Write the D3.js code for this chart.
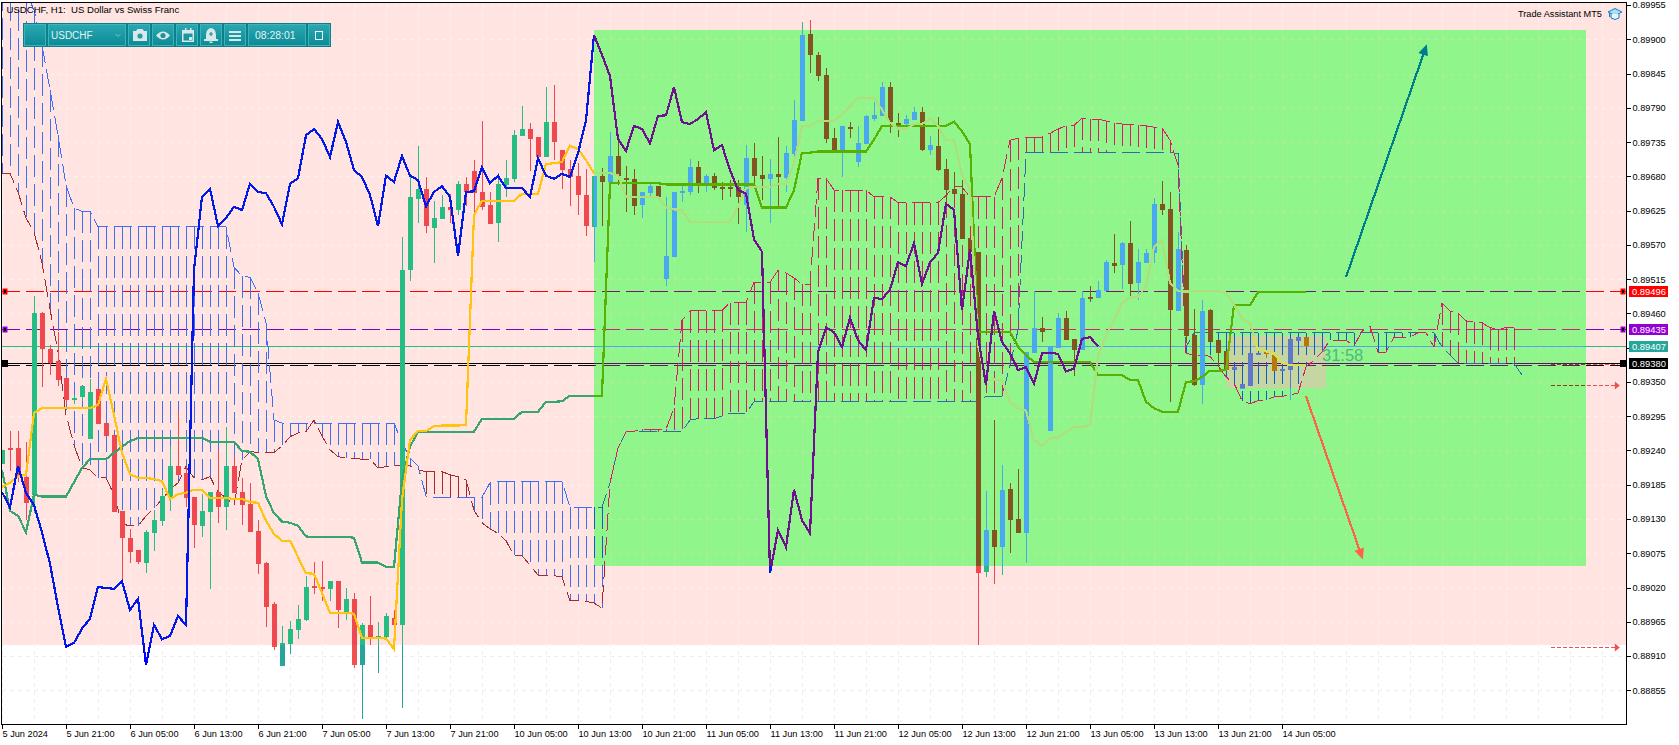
<!DOCTYPE html>
<html><head><meta charset="utf-8">
<script src="https://cdnjs.cloudflare.com/ajax/libs/d3/7.8.5/d3.min.js"></script>
<style>
html,body{margin:0;padding:0;background:#fff;overflow:hidden}
svg{display:block}
text{font-family:"Liberation Sans",Arial,sans-serif;white-space:pre}
</style></head><body>
<svg id="c" width="1679" height="745"></svg>
<script>
// ---- values, in 1/100000 of a franc ----
const opens=[89218,89244,89244,89198,89169,89461,89403,89384,89356,89321,89326,89258,89339,89284,89265,89143,89099,89080,89059,89107,89127,89165,89215,89204,89165,89119,89141,89173,89149,89215,89173,89154,89111,89059,88994,88894,88930,88952,88968,89022,89021,89018,89030,88981,89002,88896,88960,88937,88941,88971,88960,89530,89644,89660,89597,89611,89631,89626,89668,89689,89655,89634,89605,89666,89676,89745,89756,89743,89711,89767,89722,89692,89681,89650,89599,89681,89671,89713,89677,89676,89634,89653,89664,89515,89551,89655,89655,89695,89669,89681,89663,89663,89663,89634,89709,89682,89676,89684,89677,89716,89769,89908,89875,89843,89741,89719,89759,89703,89732,89772,89777,89823,89766,89764,89770,89783,89722,89729,89692,89660,89652,89581,89559,89045,89112,89085,89178,89130,89107,89396,89437,89271,89404,89453,89419,89401,89486,89485,89496,89541,89538,89573,89509,89541,89557,89636,89628,89464,89562,89425,89345,89465,89417,89400,89369,89339,89343,89395,89398,89393,89367,89369,89416,89422];
const highs=[89241,89271,89271,89254,89488,89462,89409,89430,89356,89329,89343,89355,89339,89284,89265,89143,89114,89080,89112,89144,89177,89247,89302,89214,89165,89170,89173,89241,89278,89229,89196,89188,89128,89061,88997,88958,88966,88992,89038,89061,89063,89030,89030,89019,89011,88963,89006,88965,88979,88984,89583,89684,89729,89679,89640,89650,89652,89673,89679,89706,89769,89655,89685,89706,89754,89793,89766,89743,89823,89827,89722,89706,89701,89692,89681,89693,89751,89738,89697,89692,89655,89671,89664,89647,89655,89664,89708,89705,89684,89685,89671,89674,89674,89730,89733,89713,89708,89743,89729,89803,89928,89931,89880,89854,89758,89761,89767,89761,89778,89799,89831,89831,89782,89778,89791,89791,89745,89775,89708,89687,89674,89581,89559,89175,89289,89217,89188,89210,89398,89496,89454,89406,89461,89464,89419,89496,89504,89512,89546,89587,89575,89608,89563,89563,89645,89673,89655,89591,89570,89467,89482,89467,89417,89400,89374,89347,89396,89397,89398,89393,89371,89419,89422,89422];
const lows=[89218,89207,89190,89128,89139,89342,89361,89343,89315,89315,89319,89258,89283,89263,89141,89032,89059,89058,89043,89079,89119,89143,89199,89149,89083,89101,89018,89124,89112,89172,89120,89109,89042,88957,88920,88894,88914,88938,88966,89010,88998,88998,88955,88968,88891,88809,88928,88883,88936,88952,88827,89512,89605,89589,89541,89611,89605,89618,89632,89621,89626,89603,89575,89647,89671,89745,89689,89711,89711,89706,89660,89632,89618,89584,89543,89600,89671,89666,89623,89618,89613,89648,89647,89504,89551,89639,89650,89653,89655,89658,89642,89647,89603,89591,89664,89642,89605,89631,89655,89711,89769,89846,89833,89733,89721,89679,89741,89695,89732,89769,89777,89750,89743,89754,89770,89721,89714,89689,89642,89652,89579,89534,88928,89037,89026,89040,89075,89107,89059,89396,89414,89271,89404,89417,89360,89401,89478,89485,89496,89525,89499,89488,89482,89541,89541,89618,89318,89464,89412,89343,89315,89414,89374,89369,89369,89339,89343,89395,89388,89367,89367,89321,89416,89406];
const closes=[89241,89241,89199,89156,89461,89403,89380,89353,89321,89324,89343,89334,89283,89263,89141,89099,89077,89061,89109,89128,89167,89215,89201,89164,89120,89143,89173,89149,89215,89172,89152,89109,89058,88989,88925,88931,88954,88970,89021,89019,89018,89030,88984,89002,88896,88960,88937,88942,88974,88960,89530,89647,89660,89600,89613,89631,89626,89668,89655,89653,89631,89603,89668,89677,89746,89756,89740,89711,89767,89735,89690,89679,89650,89600,89681,89671,89713,89681,89674,89632,89655,89664,89647,89552,89655,89656,89695,89669,89681,89661,89661,89661,89647,89709,89681,89676,89684,89679,89717,89770,89907,89875,89841,89740,89721,89761,89756,89733,89777,89778,89823,89767,89764,89772,89783,89722,89730,89690,89658,89652,89579,89559,89043,89112,89085,89177,89128,89107,89398,89437,89430,89406,89453,89417,89401,89485,89483,89498,89542,89536,89573,89507,89542,89557,89636,89626,89465,89563,89424,89345,89464,89414,89396,89369,89374,89347,89396,89397,89395,89367,89371,89419,89422,89407];
const chikou=[89173,89149,89215,89172,89152,89109,89058,88989,88925,88931,88954,88970,89021,89019,89018,89030,88984,89002,88896,88960,88937,88942,88974,88960,89530,89647,89660,89600,89613,89631,89626,89668,89655,89653,89631,89603,89668,89677,89746,89756,89740,89711,89767,89735,89690,89679,89650,89600,89681,89671,89713,89681,89674,89632,89655,89664,89647,89552,89655,89656,89695,89669,89681,89661,89661,89661,89647,89709,89681,89676,89684,89679,89717,89770,89907,89875,89841,89740,89721,89761,89756,89733,89777,89778,89823,89767,89764,89772,89783,89722,89730,89690,89658,89652,89579,89559,89043,89112,89085,89177,89128,89107,89398,89437,89430,89406,89453,89417,89401,89485,89483,89498,89542,89536,89573,89507,89542,89557,89636,89626,89465,89563,89424,89345,89464,89414,89396,89369,89374,89347,89396,89397,89395,89367,89371,89419,89422,89407];
const tenkan=[89182,89188,89198,89201,89300,89308,89308,89308,89308,89308,89308,89308,89313,89355,89297,89236,89202,89196,89196,89194,89191,89162,89170,89172,89177,89177,89164,89164,89164,89162,89162,89157,89156,89127,89106,89095,89095,89069,89043,89042,89011,88979,88979,88979,88978,88939,88939,88939,88938,88921,89161,89257,89271,89271,89279,89280,89280,89280,89281,89618,89641,89641,89641,89641,89641,89652,89652,89652,89700,89701,89703,89729,89724,89706,89685,89685,89685,89682,89647,89647,89647,89647,89647,89630,89627,89626,89607,89607,89607,89607,89607,89607,89631,89661,89663,89663,89663,89668,89668,89701,89761,89761,89769,89769,89769,89780,89792,89806,89806,89806,89787,89766,89757,89756,89764,89764,89773,89761,89738,89738,89682,89659,89409,89353,89354,89353,89318,89307,89304,89257,89247,89260,89261,89270,89278,89278,89281,89391,89425,89449,89477,89485,89487,89503,89567,89578,89509,89496,89495,89496,89496,89496,89496,89493,89474,89452,89444,89402,89399,89396,89380,89377,89377,89377];
const kijun=[89209,89143,89135,89109,89169,89166,89166,89166,89166,89189,89212,89226,89226,89226,89236,89246,89255,89260,89260,89260,89260,89260,89260,89260,89260,89260,89254,89254,89254,89254,89239,89238,89226,89167,89139,89126,89124,89119,89102,89101,89101,89101,89101,89101,89100,89060,89060,89060,89053,89053,89193,89246,89270,89270,89270,89270,89270,89270,89270,89270,89291,89291,89291,89291,89291,89302,89302,89302,89318,89318,89319,89328,89328,89328,89328,89328,89669,89669,89669,89669,89669,89669,89669,89667,89667,89667,89667,89667,89667,89667,89667,89667,89667,89667,89667,89630,89630,89630,89630,89658,89718,89718,89720,89720,89720,89720,89720,89720,89720,89739,89761,89761,89761,89761,89761,89761,89761,89761,89761,89768,89752,89732,89430,89430,89430,89430,89430,89407,89393,89382,89382,89382,89382,89382,89382,89382,89382,89361,89361,89361,89361,89353,89353,89318,89308,89302,89302,89302,89350,89351,89358,89368,89368,89369,89473,89473,89473,89494,89494,89494,89494,89494,89494,89494];
const spanA=[90027,90011,89995,89976,89947,89891,89819,89746,89666,89629,89624,89624,89599,89599,89599,89599,89599,89599,89599,89599,89599,89599,89599,89599,89599,89599,89599,89599,89599,89534,89520,89518,89493,89445,89289,89284,89284,89284,89284,89284,89284,89284,89284,89284,89284,89284,89284,89284,89284,89284,89252,89228,89215,89167,89165,89165,89165,89165,89165,89165,89165,89188,89190,89190,89190,89190,89190,89190,89190,89190,89190,89149,89149,89149,89149,89149,89188,89244,89270,89270,89270,89270,89270,89270,89270,89270,89289,89291,89291,89291,89295,89300,89300,89300,89318,89318,89318,89318,89318,89318,89318,89318,89318,89318,89318,89318,89318,89318,89318,89318,89318,89318,89318,89318,89318,89318,89318,89318,89318,89318,89318,89318,89318,89327,89327,89327,89377,89433,89718,89718,89718,89718,89718,89718,89718,89718,89718,89718,89718,89718,89718,89718,89718,89718,89718,89718,89718,89717,89406,89429,89429,89429,89429,89429,89429,89429,89429,89429,89429,89429,89429,89429,89429,89429,89429,89429,89429,89429,89429,89429,89429,89429,89429,89429,89429,89429,89429,89429,89429,89429,89406,89393,89380,89380,89380,89380,89380,89380,89380,89380,89361];
const spanB=[89685,89685,89655,89613,89591,89541,89467,89398,89297,89249,89212,89209,89196,89196,89169,89122,89119,89119,89135,89148,89161,89177,89188,89214,89196,89193,89198,89173,89164,89152,89225,89238,89237,89237,89237,89247,89262,89268,89270,89289,89263,89241,89230,89228,89227,89226,89226,89212,89214,89215,89217,89215,89209,89206,89206,89206,89201,89198,89193,89144,89124,89114,89107,89095,89072,89071,89056,89040,89039,89039,89037,88999,88999,88998,88995,88987,89188,89244,89270,89271,89274,89274,89274,89274,89308,89449,89464,89464,89464,89464,89465,89477,89477,89477,89510,89510,89510,89529,89525,89517,89507,89507,89677,89677,89658,89658,89658,89658,89658,89647,89647,89647,89638,89638,89638,89638,89638,89638,89649,89664,89663,89647,89647,89647,89647,89677,89738,89741,89743,89743,89743,89749,89756,89761,89762,89773,89772,89772,89769,89766,89764,89764,89762,89761,89759,89758,89738,89698,89396,89393,89393,89391,89376,89358,89348,89320,89315,89320,89321,89326,89327,89329,89332,89374,89385,89398,89417,89417,89417,89408,89431,89440,89398,89398,89422,89422,89422,89429,89429,89406,89477,89464,89461,89448,89446,89445,89437,89435,89437,89437];
const priceTicks=[89955,89900,89845,89790,89735,89680,89625,89570,89515,89460,89405,89350,89295,89240,89185,89130,89075,89020,88965,88910,88855];
const timeTicks=[0,8,16,24,32,40,48,56,64,72,80,88,96,104,112,120,128,136,144,152,160];
const timeLabels=["5 Jun 2024","5 Jun 21:00","6 Jun 05:00","6 Jun 13:00","6 Jun 21:00","7 Jun 05:00","7 Jun 13:00","7 Jun 21:00","10 Jun 05:00","10 Jun 13:00","10 Jun 21:00","11 Jun 05:00","11 Jun 13:00","11 Jun 21:00","12 Jun 05:00","12 Jun 13:00","12 Jun 21:00","13 Jun 05:00","13 Jun 13:00","13 Jun 21:00","14 Jun 05:00"];
const levelRed=89496, levelViolet=89435, levelBid=89407, levelBlack=89380, levelBlackDash=89377;
const stopLevels=[89345,88924], stopDash=89378;
const zoneBars=[74,198], zonePrices=[89915,89055], pinkFloor=88928;
const overlayBars=[153,165.5], overlayPrices=[89424,89340];
const arrowUp=[[168,89518],[178.1,89892]], arrowDown=[[163,89327],[170.1,89065]];

// ---- palettes: the picture's objects invert what lies beneath them ----
const white={bg:"#ffffff",grid:"#eeeeee",up:"#26a69a",down:"#ef5350",chikou:"#0000ff",kijun:"#3ba773",tenkan:"#ffc107",hatchA:"#3f6df5",hatchB:"#a52a2a",lineA:"#3f6df5",lineB:"#a52a2a",red:"#ff0000",violet:"#8000c0",green:"#26bd84",black:"#000",blackDash:"#000",stop:"#f05050"};
const pink=Object.assign({},white,{bg:"#ffe4e1",grid:"#f7f3ef",up:"#26bd84",down:"#ef484e",chikou:"#0018e8",kijun:"#37a56f",tenkan:"#ffc40d"});
const zone=Object.assign({},white,{bg:"#90f68c",grid:"#b4eb98",up:"#49a8f0",down:"#825520",chikou:"#6f1090",kijun:"#58b000",tenkan:"#b0de7c",hatchA:"#1458d0",hatchB:"#dc1c62",lineA:"#2f6aaa",lineB:"#dc1c62",red:"#7b1470",violet:"#d02080",green:"#4aa8f0",black:"#4a1f50",blackDash:"#6f1070",stop:"#8a4020"});
const overlay=Object.assign({},zone,{bg:"#c6d6a2",grid:"#c6d6a2",up:"#5f78c8",down:"#b87808",tenkan:"#d8e050",kijun:"#7ab000",green:"#7aa8c8"});

const x=d3.scaleLinear().domain([0,203]).range([2,1626]);
const y=d3.scaleLinear().domain([88855,89900]).range([690.3,39.3]);
const svg=d3.select("#c");
const plot={l:2,t:2.5,r:1626,b:724};
const defs=svg.append("defs");
function clip(id,x0,y0,x1,y1){defs.append("clipPath").attr("id",id).append("rect").attr("x",x0).attr("y",y0).attr("width",x1-x0).attr("height",y1-y0);}
clip("cWhite",plot.l,plot.t,plot.r,plot.b);
clip("cPink",plot.l,plot.t,plot.r,Math.round(y(pinkFloor)));
clip("cZone",x(zoneBars[0]),Math.round(y(zonePrices[0])),x(zoneBars[1]),Math.round(y(zonePrices[1])));
clip("cOver",x(overlayBars[0]),Math.round(y(overlayPrices[0])),x(overlayBars[1]),Math.round(y(overlayPrices[1])));

const lineGen=d3.line().x((d,i)=>x(i)).y(d=>y(d));

function drawLayer(id,p){
  const g=svg.append("g").attr("clip-path","url(#"+id+")").attr("shape-rendering","crispEdges");
  g.append("rect").attr("x",0).attr("y",0).attr("width",1679).attr("height",745).attr("fill",p.bg);
  // grid
  const vg=d3.range(0,204,4);
  g.selectAll(null).data(vg).join("line").attr("x1",d=>x(d)+.5).attr("x2",d=>x(d)+.5).attr("y1",plot.t).attr("y2",plot.b)
    .attr("stroke",p.grid).attr("stroke-dasharray","4 4");
  g.selectAll(null).data(priceTicks).join("line").attr("y1",d=>Math.round(y(d))+.5).attr("y2",d=>Math.round(y(d))+.5).attr("x1",plot.l).attr("x2",plot.r)
    .attr("stroke",p.grid).attr("stroke-dasharray","4 4");
  // horizontal levels
  const hl=(v,c,dash)=>g.append("line").attr("x1",plot.l).attr("x2",plot.r).attr("y1",Math.round(y(v))+.5).attr("y2",Math.round(y(v))+.5).attr("stroke",c).attr("stroke-dasharray",dash);
  hl(levelBid,p.green,null);
  hl(levelRed,p.red,"18 6");
  hl(levelViolet,p.violet,"18 6");
  hl(levelBlack,p.black,null);
  hl(levelBlackDash,p.blackDash,"18 6");
  // cloud hatches
  const bars=d3.range(spanA.length).filter(i=>Math.abs(spanA[i]-spanB[i])>2);
  g.selectAll(null).data(bars).join("line")
    .attr("x1",i=>x(i)+.5).attr("x2",i=>x(i)+.5)
    .attr("y1",i=>y(Math.max(spanA[i],spanB[i]))).attr("y2",i=>y(Math.min(spanA[i],spanB[i])))
    .attr("stroke",i=>spanA[i]>spanB[i]?p.hatchA:p.hatchB).attr("stroke-dasharray","22 7");
  g.append("path").attr("d",lineGen(spanA)).attr("fill","none").attr("stroke",p.lineA).attr("stroke-dasharray","18 6");
  g.append("path").attr("d",lineGen(spanB)).attr("fill","none").attr("stroke",p.lineB).attr("stroke-dasharray","18 6");
  // stop-loss / target dashes
  const sx0=x(193.6),sx1=x(202);
  [...stopLevels,stopDash].forEach(v=>g.append("line").attr("x1",sx0).attr("x2",sx1).attr("y1",Math.round(y(v))+.5).attr("y2",Math.round(y(v))+.5).attr("stroke",p.stop).attr("stroke-dasharray","4 2"));
  // candles
  const idx=d3.range(opens.length);
  const col=i=>closes[i]>=opens[i]?p.up:p.down;
  g.selectAll(null).data(idx).join("rect").attr("x",i=>x(i)).attr("width",1)
    .attr("y",i=>y(highs[i])).attr("height",i=>Math.max(1,y(lows[i])-y(highs[i]))).attr("fill",col);
  g.selectAll(null).data(idx).join("rect").attr("x",i=>x(i)-2).attr("width",5)
    .attr("y",i=>y(Math.max(opens[i],closes[i]))).attr("height",i=>Math.max(2,Math.abs(y(opens[i])-y(closes[i])))).attr("fill",col);
  // ichimoku lines
  const ln=(arr,c)=>g.append("path").attr("d",lineGen(arr)).attr("fill","none").attr("stroke",c).attr("stroke-width",2.2);
  ln(kijun,p.kijun); ln(tenkan,p.tenkan); ln(chikou,p.chikou);
}
drawLayer("cWhite",white);
drawLayer("cPink",pink);
drawLayer("cZone",zone);
drawLayer("cOver",overlay);

// arrows
function arrow(a,c){
  const [x0,y0]=[x(a[0][0]),y(a[0][1])],[x1,y1]=[x(a[1][0]),y(a[1][1])];
  const ang=Math.atan2(y1-y0,x1-x0),L=11,W=5;
  svg.append("line").attr("x1",x0).attr("y1",y0).attr("x2",x1-Math.cos(ang)*L*.8).attr("y2",y1-Math.sin(ang)*L*.8).attr("stroke",c).attr("stroke-width",2.2).attr("shape-rendering","crispEdges");
  const bx=x1-Math.cos(ang)*L,by=y1-Math.sin(ang)*L;
  svg.append("path").attr("d",d3.line()([[x1,y1],[bx-Math.sin(ang)*W,by+Math.cos(ang)*W],[bx+Math.sin(ang)*W,by-Math.cos(ang)*W]])+"Z").attr("fill",c);
}
arrow(arrowUp,"#007d8a");
arrow(arrowDown,"#ff6347");
// stop-level arrow heads
stopLevels.forEach(v=>{const yy=Math.round(y(v))+.5;svg.append("path").attr("d",`M${x(201.6)},${yy-4}L${x(201.6)+5},${yy}L${x(201.6)},${yy+4}Z`).attr("fill","#f05050");});

// countdown
svg.append("text").attr("x",1322).attr("y",361).attr("font-size",16.5).attr("fill","#4db67f").text("31:58");

// frame
svg.append("path").attr("d",`M${plot.l-.5},${plot.t}H${plot.r+.5}V${plot.b+.5}H${plot.l-.5}Z`).attr("fill","none").attr("stroke","#000").attr("stroke-width",1).attr("shape-rendering","crispEdges");

// axes
const yAxis=d3.axisRight(y).tickValues(priceTicks).tickSize(4).tickPadding(2).tickFormat(d=>(d/1e5).toFixed(5));
const ya=svg.append("g").attr("transform",`translate(${plot.r+.5},0)`).call(yAxis);
ya.select(".domain").remove();
ya.selectAll("text").attr("font-size",9.2).attr("fill","#000").attr("font-family","Liberation Sans");
ya.selectAll("line").attr("shape-rendering","crispEdges");
const xAxis=d3.axisBottom(x).tickValues(timeTicks).tickSize(4).tickPadding(2).tickFormat((d,i)=>timeLabels[i]);
const xa=svg.append("g").attr("transform",`translate(0,${plot.b+.5})`).call(xAxis);
xa.select(".domain").remove();
xa.selectAll("text").attr("font-size",9.2).attr("fill","#000").attr("text-anchor","start").attr("font-family","Liberation Sans");
xa.selectAll("line").attr("shape-rendering","crispEdges");

// price flags
const flags=[[levelRed,"#ff0000"],[levelViolet,"#9400d3"],[levelBid,"#26a69a"],[levelBlack,"#000000"]];
flags.forEach(([v,c])=>{
  const yy=Math.round(y(v));
  svg.append("rect").attr("x",1629).attr("y",yy-5).attr("width",39).attr("height",11).attr("fill",c);
  svg.append("text").attr("x",1632).attr("y",yy+4).attr("font-size",9.4).attr("fill","#fff").text((v/1e5).toFixed(5));
});
// handles
function handle(xx,v,c,w){const yy=Math.round(y(v));
  svg.append("rect").attr("x",xx-w/2-1).attr("y",yy-2.5).attr("width",w+2).attr("height",6).attr("fill",c);
  svg.append("rect").attr("x",xx-w/2+.5).attr("y",yy-1).attr("width",w-1).attr("height",3).attr("fill","#000");}
handle(5,levelRed,"#ff0000",3);handle(5,levelViolet,"#9400d3",3);
handle(1623,levelRed,"#ff0000",3);handle(1623,levelViolet,"#9400d3",3);
[5,1623].forEach(xx=>svg.append("rect").attr("x",xx-3).attr("y",Math.round(y(levelBlack))-3).attr("width",6).attr("height",7).attr("fill","#000"));

// title + branding
svg.append("text").attr("x",6.5).attr("y",13).attr("font-size",9.6).attr("fill","#000").text("USDCHF, H1:  US Dollar vs Swiss Franc");
svg.append("text").attr("x",1518).attr("y",17).attr("font-size",9.2).attr("fill","#000").text("Trade Assistant MT5");
const cap=svg.append("g").attr("transform","translate(1608,8)");
cap.append("path").attr("d","M0,4L7,0.5L14,4L7,7.5Z").attr("fill","#a8e0f0").attr("stroke","#1f78c8");
cap.append("path").attr("d","M3,6V10Q7,13 11,10V6").attr("fill","#e0f6ff").attr("stroke","#1f78c8");
cap.append("path").attr("d","M1.5,5V9").attr("fill","none").attr("stroke","#1f78c8");

// toolbar
const grad=defs.append("linearGradient").attr("id","tb").attr("x1",0).attr("x2",0).attr("y1",0).attr("y2",1);
grad.append("stop").attr("offset",0).attr("stop-color","#2aa8b2");
grad.append("stop").attr("offset",1).attr("stop-color","#0c8a96");
const tb=svg.append("g").attr("shape-rendering","crispEdges");
tb.append("rect").attr("x",23).attr("y",23).attr("width",308).attr("height",24).attr("fill","#0d7f8a");
const btn=[[24,22],[48,78],[128,22],[152,22],[176,22],[200,22],[224,22],[248,58],[308,22]];
tb.selectAll(null).data(btn).join("rect").attr("x",d=>d[0]+.5).attr("y",24.5).attr("width",d=>d[1]-1).attr("height",21).attr("fill","url(#tb)").attr("stroke","#3fb3bb");
const ic="#d9e8e8";
svg.append("text").attr("x",51).attr("y",39).attr("font-size",10).attr("fill","#e2f4f4").text("USDCHF");
svg.append("path").attr("d","M115.5,34L118,36.5L120.5,34").attr("fill","none").attr("stroke","#7fc4c8");
svg.append("text").attr("x",255).attr("y",39).attr("font-size",10.4).attr("fill","#e2f4f4").text("08:28:01");
// camera
svg.append("path").attr("d","M133,31h3l1.5,-2h5l1.5,2h3v10h-14Z").attr("fill",ic);
svg.append("circle").attr("cx",140).attr("cy",36).attr("r",2.6).attr("fill","#2a9aa5");
// eye
svg.append("path").attr("d","M156,35.5Q163,27.5 170,35.5Q163,43.5 156,35.5Z").attr("fill",ic);
svg.append("circle").attr("cx",163).attr("cy",35.5).attr("r",2.6).attr("fill","#1f929d");
// calendar
svg.append("path").attr("d","M182,30h12v12h-12Z M183.5,33.5v7h9v-7Z").attr("fill",ic).attr("fill-rule","evenodd");
svg.append("rect").attr("x",189).attr("y",37).attr("width",3).attr("height",3).attr("fill",ic);
svg.append("rect").attr("x",185).attr("y",28).attr("width",1.5).attr("height",3).attr("fill",ic);
svg.append("rect").attr("x",190).attr("y",28).attr("width",1.5).attr("height",3).attr("fill",ic);
// bell
svg.append("path").attr("d","M211,28Q216,29 216,35V39H218V41H204V39H206V35Q206,29 211,28Z").attr("fill",ic);
svg.append("path").attr("d","M209,34h4M211,32v4").attr("stroke","#1f929d").attr("stroke-width",1.2);
svg.append("rect").attr("x",209.5).attr("y",41.5).attr("width",3).attr("height",1.5).attr("fill",ic);
// menu
[31,35,39].forEach(v=>svg.append("rect").attr("x",229).attr("y",v).attr("width",12).attr("height",2).attr("fill",ic));
// restore
svg.append("rect").attr("x",315.5).attr("y",31.5).attr("width",7).attr("height",8).attr("fill","none").attr("stroke","#f4fbfb").attr("stroke-width",1.5).attr("shape-rendering","crispEdges");
</script>
</body></html>
